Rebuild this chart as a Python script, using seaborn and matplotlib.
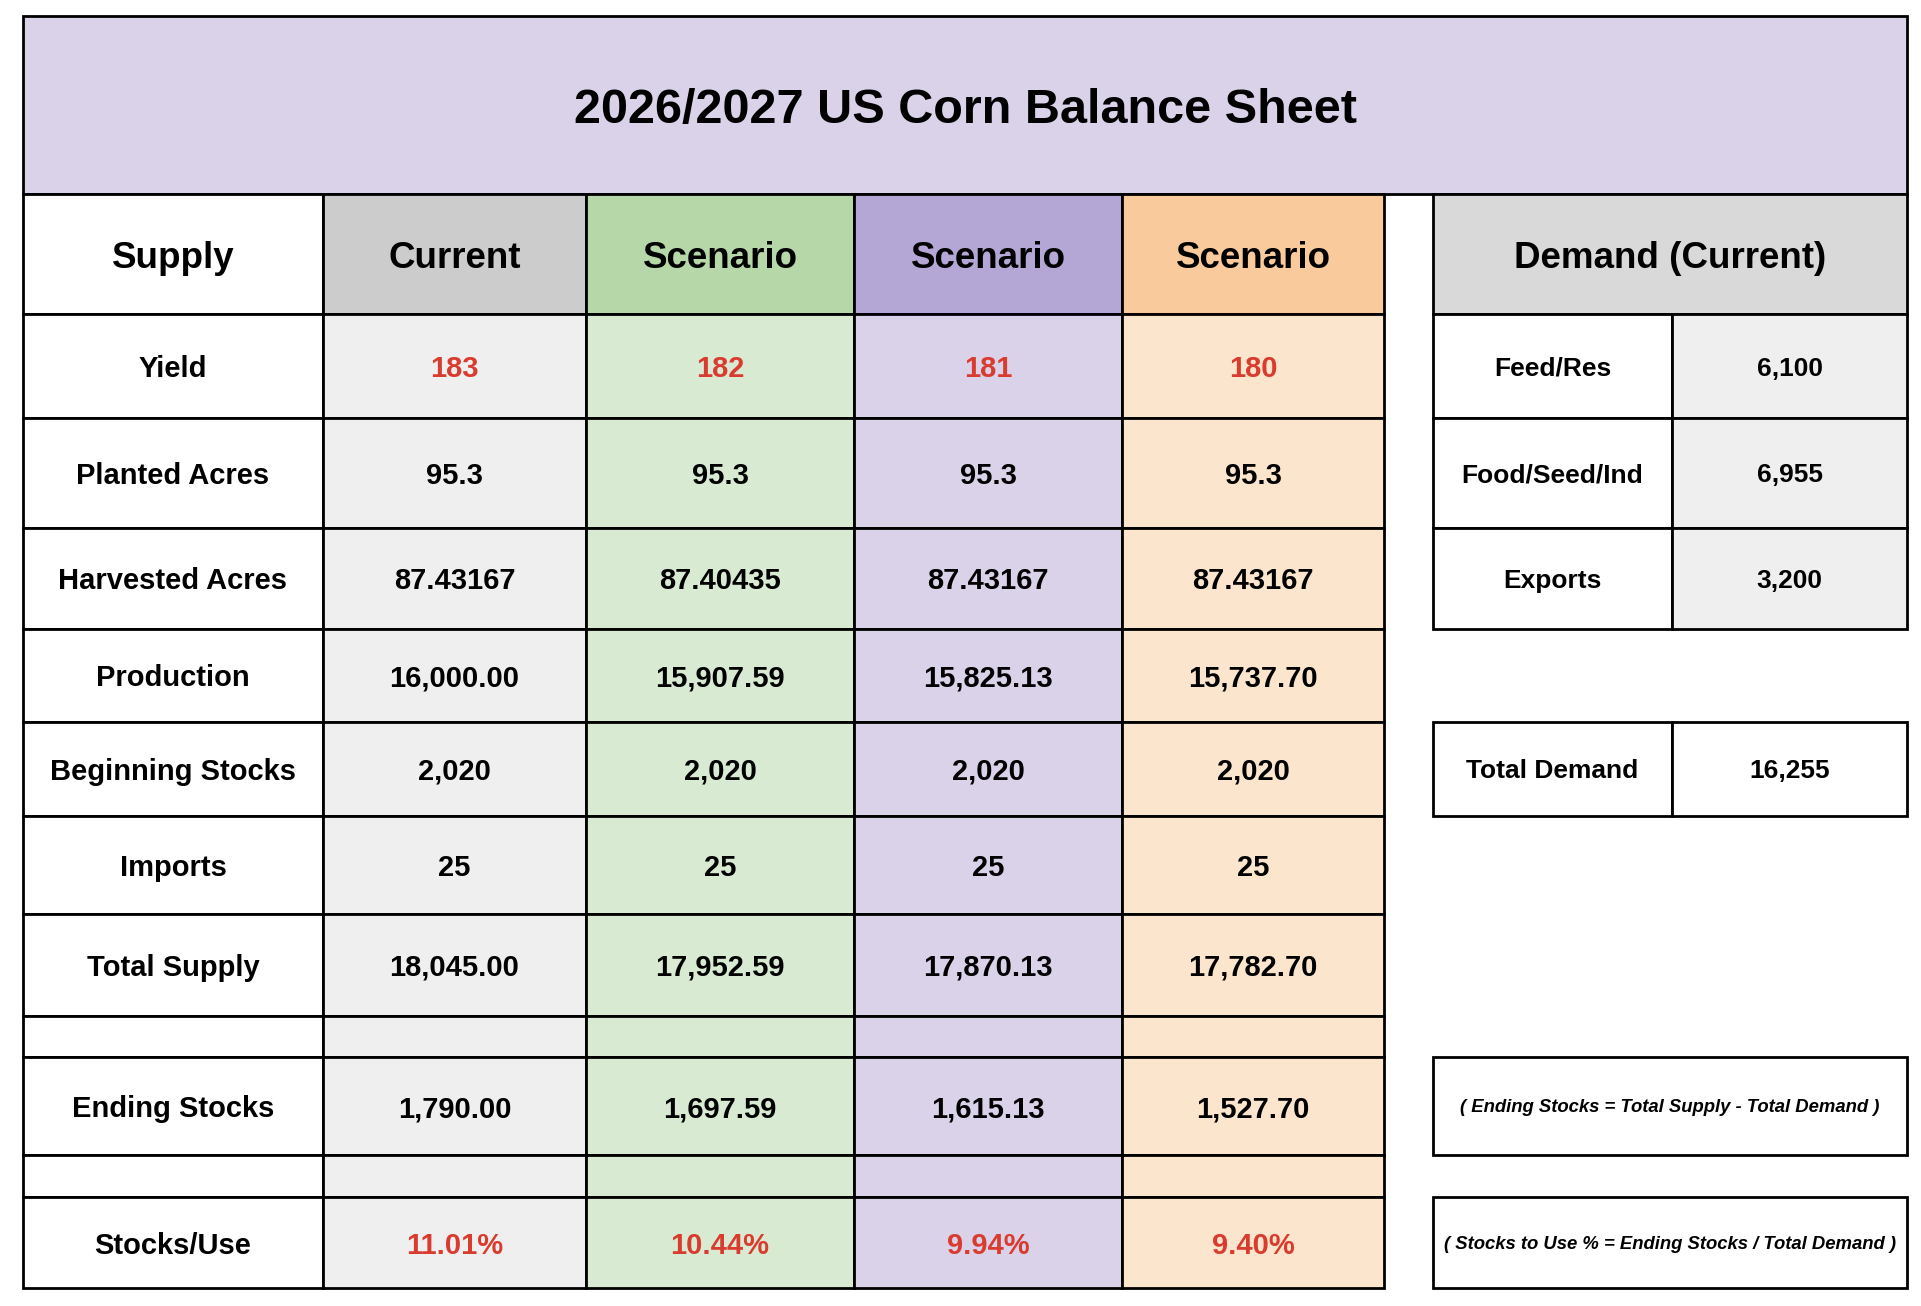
import pandas as pd
import numpy as np
import matplotlib
matplotlib.use("Agg")
import matplotlib.pyplot as plt
import seaborn as sns

# ---- data ----
title = "2026/2027 US Corn Balance Sheet"
columns = ["Current", "Scenario", "Scenario", "Scenario"]
row_labels = ["Yield", "Planted Acres", "Harvested Acres", "Production",
              "Beginning Stocks", "Imports", "Total Supply", "",
              "Ending Stocks", "", "Stocks/Use"]

yield_vals = [183, 182, 181, 180]
planted_acres = [95.3, 95.3, 95.3, 95.3]
harvested_acres = [87.43167, 87.40435, 87.43167, 87.43167]
production = [16000.00, 15907.59, 15825.13, 15737.70]
beginning_stocks = [2020, 2020, 2020, 2020]
imports = [25, 25, 25, 25]
total_supply = [18045.00, 17952.59, 17870.13, 17782.70]
ending_stocks = [1790.00, 1697.59, 1615.13, 1527.70]
stocks_use = [11.01, 10.44, 9.94, 9.40]

demand_labels = ["Feed/Res", "Food/Seed/Ind", "Exports"]
demand_vals = [6100, 6955, 3200]
total_demand = 16255

formula_ending = "( Ending Stocks = Total Supply - Total Demand )"
formula_stu = "( Stocks to Use % = Ending Stocks / Total Demand )"

# ---- layout (pixels) ----
col_edges = [23, 323, 586, 854, 1122, 1384]
dem_edges = [1433, 1672, 1907]
row_edges = [194, 314, 418, 528, 628.5, 722, 816, 914, 1016, 1057, 1155, 1197, 1288]
title_top = 16

head_colors = ["white", "#CCCCCC", "#B6D7A8", "#B4A7D6", "#F9CB9C"]
body_colors = ["white", "#EFEFEF", "#D9EAD3", "#D9D2E9", "#FCE5CD"]
red = "#D93C2F"
font = ["Liberation Sans", "DejaVu Sans"]

series = [yield_vals, planted_acres, harvested_acres, production, beginning_stocks,
          imports, total_supply, None, ending_stocks, None, stocks_use]
formats = ["{:.0f}", "{:.1f}", "{:.5f}", "{:,.2f}", "{:,.0f}", "{:.0f}", "{:,.2f}",
           None, "{:,.2f}", None, "{:.2f}%"]
red_rows = {0, 10}

sns.set_theme(style="white")
plt.rcParams["font.family"] = font

fig = plt.figure(figsize=(19.21, 13.06), dpi=100)
ax = fig.add_axes([0, 0, 1, 1])
ax.set_xlim(0, 1921)
ax.set_ylim(1306, 0)
ax.axis("off")

LW = 2.0


def cell(x0, x1, y0, y1, color):
    ax.bar(x0, y1 - y0, width=x1 - x0, bottom=y0, align="edge",
           color=color, edgecolor="black", linewidth=LW)


def label(x0, x1, y0, y1, s, size, color="black", style="normal"):
    ax.text((x0 + x1) / 2, (y0 + y1) / 2, s, ha="center", va="center_baseline",
            fontsize=size, fontweight="bold", color=color, fontstyle=style)


# title band
cell(col_edges[0], dem_edges[-1], title_top, row_edges[0], "#D9D2E9")
label(col_edges[0], dem_edges[-1], title_top, row_edges[0], title, 35)

# header row
y0, y1 = row_edges[0], row_edges[1]
for j, name in enumerate(["Supply"] + columns):
    cell(col_edges[j], col_edges[j + 1], y0, y1, head_colors[j])
    label(col_edges[j], col_edges[j + 1], y0, y1, name, 26.5)
cell(dem_edges[0], dem_edges[2], y0, y1, "#D9D9D9")
label(dem_edges[0], dem_edges[2], y0, y1, "Demand (Current)", 26.5)

# supply body
for i, lab in enumerate(row_labels):
    y0, y1 = row_edges[i + 1], row_edges[i + 2]
    cell(col_edges[0], col_edges[1], y0, y1, body_colors[0])
    if lab:
        label(col_edges[0], col_edges[1], y0, y1, lab, 21)
    for j in range(4):
        cell(col_edges[j + 1], col_edges[j + 2], y0, y1, body_colors[j + 1])
        if series[i] is not None:
            txt = formats[i].format(series[i][j])
            label(col_edges[j + 1], col_edges[j + 2], y0, y1, txt, 21,
                  color=red if i in red_rows else "black")

# demand body
for i, (lab, v) in enumerate(zip(demand_labels, demand_vals)):
    y0, y1 = row_edges[i + 1], row_edges[i + 2]
    cell(dem_edges[0], dem_edges[1], y0, y1, "white")
    cell(dem_edges[1], dem_edges[2], y0, y1, "#EFEFEF")
    label(dem_edges[0], dem_edges[1], y0, y1, lab, 19)
    label(dem_edges[1], dem_edges[2], y0, y1, f"{v:,}", 19)

y0, y1 = row_edges[5], row_edges[6]
cell(dem_edges[0], dem_edges[1], y0, y1, "white")
cell(dem_edges[1], dem_edges[2], y0, y1, "white")
label(dem_edges[0], dem_edges[1], y0, y1, "Total Demand", 19)
label(dem_edges[1], dem_edges[2], y0, y1, f"{total_demand:,}", 19)

# formula notes
for k, s in [(9, formula_ending), (11, formula_stu)]:
    y0, y1 = row_edges[k], row_edges[k + 1]
    cell(dem_edges[0], dem_edges[2], y0, y1, "white")
    label(dem_edges[0], dem_edges[2], y0, y1, s, 13.3, style="italic")

fig.savefig("out.png", dpi=100, facecolor="white")
